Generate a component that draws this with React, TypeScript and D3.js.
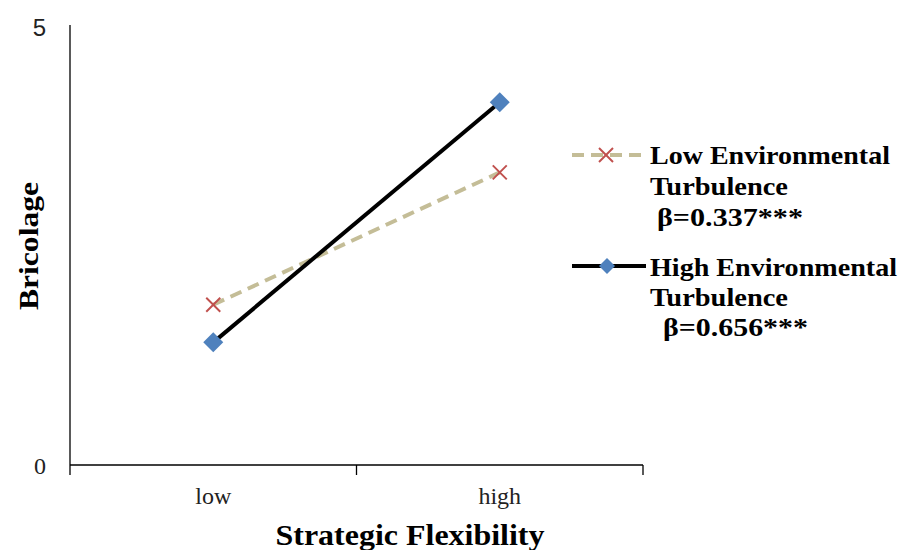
import React from "react";
import * as d3 from "d3";

const categories = ["low", "high"];
const lowTurbulence = [1.83, 3.34];
const highTurbulence = [1.4, 4.14];
const yTicks = [0, 5];
const legendLow = ["Low Environmental", "Turbulence", "β=0.337***"];
const legendHigh = ["High Environmental", "Turbulence", "β=0.656***"];

export default function App() {
  const W = 905, H = 550;
  const x0 = 70, x1 = 643, yTop = 27, yBot = 465;
  const x = d3.scaleBand<string>().domain(categories).range([x0, x1]);
  const y = d3.scaleLinear().domain([0, 5]).range([yBot, yTop]);
  const cx = (c: string) => (x(c) as number) + x.bandwidth() / 2;
  const line = d3.line<number>().x((_, i) => cx(categories[i])).y((d) => y(d));
  const serif = "'Liberation Serif', 'Times New Roman', serif";
  const sans = "'Liberation Sans', Arial, sans-serif";
  const tickXs = [x0, ...categories.map((c) => (x(c) as number) + x.bandwidth())];
  const cross = (px: number, py: number, k: string) => (
    <g key={k} stroke="#c0504d" strokeWidth={2}>
      <line x1={px - 7} y1={py - 7} x2={px + 7} y2={py + 7} />
      <line x1={px - 7} y1={py + 7} x2={px + 7} y2={py - 7} />
    </g>
  );
  const diamond = (px: number, py: number, s: number, k: string) => (
    <path key={k} d={`M${px},${py - s}L${px + s},${py}L${px},${py + s}L${px - s},${py}Z`} fill="#4f81bd" />
  );
  return (
    <svg width={W} height={H} style={{ position: "absolute", left: 0, top: 0, background: "#fff" }}>
      <rect width={W} height={H} fill="#fff" />
      <line x1={x0} y1={yTop - 2} x2={x0} y2={yBot} stroke="#000" strokeWidth={1.3} />
      <line x1={x0} y1={yBot} x2={x1} y2={yBot} stroke="#000" strokeWidth={1.3} />
      {tickXs.map((t, i) => (
        <line key={i} x1={t} y1={yBot} x2={t} y2={yBot + 10} stroke="#000" strokeWidth={1.3} />
      ))}
      {yTicks.map((t) => (
        <text key={t} x={46} y={y(t) + 9} textAnchor="end" fontFamily={t === 5 ? sans : serif} fontSize={24} fill="#222">
          {t}
        </text>
      ))}
      {categories.map((c) => (
        <text key={c} x={cx(c)} y={504} textAnchor="middle" fontFamily={serif} fontSize={24} fill="#222">
          {c}
        </text>
      ))}
      <text x={410} y={545} textAnchor="middle" fontFamily={serif} fontWeight="bold" fontSize={30} textLength={269} lengthAdjust="spacingAndGlyphs">
        Strategic Flexibility
      </text>
      <text transform={`translate(38,246) rotate(-90)`} textAnchor="middle" fontFamily={serif} fontWeight="bold" fontSize={27} textLength={128} lengthAdjust="spacingAndGlyphs">
        Bricolage
      </text>
      <path d={line(lowTurbulence) || ""} fill="none" stroke="#c4bd97" strokeWidth={4} strokeDasharray="12,7" />
      <path d={line(highTurbulence) || ""} fill="none" stroke="#000" strokeWidth={4} />
      {lowTurbulence.map((v, i) => cross(cx(categories[i]), y(v), "c" + i))}
      {highTurbulence.map((v, i) => diamond(cx(categories[i]), y(v), 10, "d" + i))}
      <line x1={572} y1={155} x2={646} y2={155} stroke="#c4bd97" strokeWidth={4} strokeDasharray="12,7" />
      {cross(606, 155, "lc")}
      <line x1={572} y1={266} x2={646} y2={266} stroke="#000" strokeWidth={4} />
      {diamond(607, 266, 8, "ld")}
      {legendLow.map((t, i) => (
        <text key={t + i} x={i === 2 ? 657 : 650} y={[164, 195, 226][i]} fontFamily={serif} fontWeight="bold" fontSize={26}
          textLength={[240, 138, 146][i]} lengthAdjust="spacingAndGlyphs">
          {t}
        </text>
      ))}
      {legendHigh.map((t, i) => (
        <text key={t + i} x={i === 2 ? 663 : 650} y={[276, 306, 336][i]} fontFamily={serif} fontWeight="bold" fontSize={26}
          textLength={[247, 138, 145][i]} lengthAdjust="spacingAndGlyphs">
          {t}
        </text>
      ))}
    </svg>
  );
}
